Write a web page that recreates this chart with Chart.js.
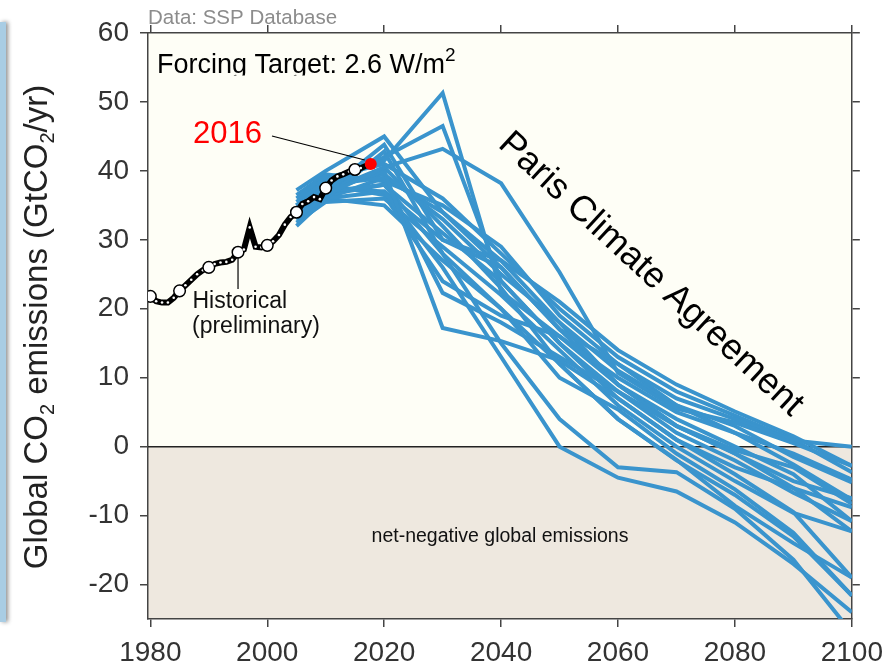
<!DOCTYPE html>
<html>
<head>
<meta charset="utf-8">
<style>
  html, body { margin: 0; padding: 0; background: #fff; }
  #wrap { position: relative; width: 892px; height: 669px; }
  #edge { position: absolute; left: 0; top: 22px; width: 6px; height: 600px; background: #a9cde4; box-shadow: 2px 0 4px rgba(0,0,0,0.45); }
</style>
<script src="https://cdn.jsdelivr.net/npm/chart.js@4.4.1/dist/chart.umd.min.js"></script>
</head>
<body>
<div id="wrap">
  <canvas id="chart"></canvas>
  <div id="edge"></div>
</div>
<script>
// --- data ---
const xTicks = [1980, 2000, 2020, 2040, 2060, 2080, 2100];
const yTicks = [-20, -10, 0, 10, 20, 30, 40, 50, 60];

const histYears = [1980, 1981, 1982, 1983, 1984, 1985, 1986, 1987, 1988, 1989,
                   1990, 1991, 1992, 1993, 1994, 1995, 1996, 1997, 1998, 1999,
                   2000, 2001, 2002, 2003, 2004, 2005, 2006, 2007, 2008, 2009,
                   2010, 2011, 2012, 2013, 2014, 2015, 2016, 2017];
const histValues = [21.8, 21.1, 20.9, 20.9, 21.6, 22.6, 23.4, 24.2, 25.0, 25.6,
                    26.0, 26.5, 26.7, 26.8, 27.1, 28.2, 28.6, 31.8, 29.0, 28.9,
                    29.2, 29.8, 30.7, 32.2, 33.3, 34.0, 35.2, 35.6, 36.2, 35.9,
                    37.5, 38.6, 39.2, 39.5, 39.9, 40.2, 40.4, 40.8];
const histMarkerYears = [1980, 1985, 1990, 1995, 2000, 2005, 2010, 2015];

const redDotYear = 2017.7;
const redDotValue = 41.0;

const scenarioYears = [2005, 2010, 2020, 2030, 2040, 2050, 2060, 2070, 2080, 2090, 2100];
const scenarios = [
  [35.5, 38.5, 41.5, 51.3, 22.5, 16.0, 10.0, 5.0, 2.0, -1.0, -4.8],
  [34.0, 37.5, 42.0, 46.5, 24.0, 15.0, 8.0, 3.0, -0.5, -3.0, -8.3],
  [33.0, 36.5, 40.5, 43.2, 38.2, 25.3, 10.7, 5.5, 3.5, 0.5, -2.8],
  [37.2, 40.0, 45.0, 34.0, 26.0, 17.0, 12.0, 7.0, 4.0, 0.9, 0.0],
  [33.5, 37.0, 43.8, 30.0, 27.0, 18.0, 9.0, 3.0, -1.0, -6.0, -12.3],
  [32.0, 36.0, 42.8, 28.0, 20.0, 12.0, 4.0, -2.0, -7.0, -13.0, -21.6],
  [34.0, 37.0, 40.0, 17.2, 15.3, 12.5, 7.0, 1.0, -4.0, -9.5, -19.0],
  [35.0, 38.0, 39.0, 22.3, 18.0, 13.0, 8.0, 2.0, -2.0, -6.7, -10.8],
  [33.0, 36.0, 37.0, 26.0, 13.0, 0.0, -4.5, -6.5, -11.0, -17.0, -24.0],
  [34.0, 37.0, 38.0, 28.0, 15.0, 4.0, -3.0, -3.7, -9.0, -16.4, -27.0],
  [36.0, 39.0, 41.0, 36.0, 28.0, 20.0, 13.0, 8.0, 4.5, 1.0, -3.7],
  [35.0, 38.0, 39.5, 33.0, 25.0, 18.0, 11.0, 6.0, 3.0, -1.5, -5.2],
  [33.5, 36.5, 38.0, 31.0, 24.0, 15.0, 7.0, 1.0, -3.0, -6.0, -8.8],
  [34.5, 37.5, 37.0, 30.0, 26.0, 17.0, 9.0, 3.0, -1.0, -5.0, -7.5],
  [32.5, 35.5, 36.0, 29.0, 22.0, 14.0, 6.0, 0.0, -5.0, -9.6, -12.3],
  [36.5, 39.5, 38.5, 35.0, 29.0, 19.0, 12.0, 6.0, 2.0, -2.6, -7.7],
  [33.0, 36.0, 35.0, 27.0, 20.0, 10.0, 5.4, -1.0, -6.2, -12.5, -21.6],
  [34.0, 37.0, 40.5, 32.0, 23.0, 12.0, 4.0, -1.9, -8.6, -14.0, -19.0],
  [35.0, 38.0, 36.5, 24.0, 19.0, 16.0, 9.0, 4.0, 0.0, -4.0, -10.8],
  [33.0, 36.0, 39.0, 34.0, 27.0, 21.0, 14.0, 9.0, 5.1, 1.5, -2.8]
];

// --- styling ---
const FONT = '"Liberation Sans", Arial, Helvetica, sans-serif';
const AXIS = '#444';
const BLUE = '#3a94cd';

function font(size) { return size + 'px ' + FONT; }

// draw text made of pieces, some sub/superscript
function richText(ctx, parts, x, y, size, align) {
  const pieces = parts.map(p => {
    const s = p.sub || p.sup ? Math.round(size * (p.sub ? 0.62 : 0.72)) : size;
    ctx.font = font(s);
    return { t: p.t, s: s, dy: p.sub ? size * 0.22 : (p.sup ? -size * 0.44 : 0), w: ctx.measureText(p.t).width };
  });
  const total = pieces.reduce((a, p) => a + p.w, 0);
  let cx = align === 'center' ? x - total / 2 : x;
  pieces.forEach(p => {
    ctx.font = font(p.s);
    ctx.fillText(p.t, cx, y + p.dy);
    cx += p.w;
  });
}

const decor = {
  id: 'decor',
  beforeDraw(chart) {
    const { ctx, chartArea: a, scales } = chart;
    const y0 = scales.y.getPixelForValue(0);
    ctx.save();
    ctx.fillStyle = '#fefef6';
    ctx.fillRect(a.left, a.top, a.width, y0 - a.top);
    ctx.fillStyle = '#eee8df';
    ctx.fillRect(a.left, y0, a.width, a.bottom - y0);
    ctx.restore();
  },
  beforeDatasetsDraw(chart) {
    const { ctx, chartArea: a, scales } = chart;
    const y0 = scales.y.getPixelForValue(0);
    ctx.save();
    ctx.strokeStyle = '#222';
    ctx.lineWidth = 1.5;
    ctx.beginPath();
    ctx.moveTo(a.left, y0);
    ctx.lineTo(a.right, y0);
    ctx.stroke();
    ctx.restore();
  },
  afterDraw(chart) {
    const { ctx, scales } = chart;
    const xs = scales.x, ys = scales.y;
    ctx.save();
    ctx.textBaseline = 'alphabetic';

    // source note
    ctx.fillStyle = '#8c8c8c';
    ctx.font = font(20.5);
    ctx.textAlign = 'left';
    ctx.fillText('Data: SSP Database', 148, 24);

    // y axis title
    ctx.save();
    ctx.translate(47, 327);
    ctx.rotate(-Math.PI / 2);
    ctx.fillStyle = '#222';
    richText(ctx, [{ t: 'Global CO' }, { t: '2', sub: true }, { t: ' emissions (GtCO' }, { t: '2', sub: true }, { t: '/yr)' }], 0, 0, 33, 'center');
    ctx.restore();

    // forcing target (bottom of the line is cut in the original)
    ctx.save();
    ctx.beginPath();
    ctx.rect(148, 34, 600, 41.5);
    ctx.clip();
    ctx.fillStyle = '#000';
    richText(ctx, [{ t: 'Forcing Target: 2.6 W/m' }, { t: '2', sup: true }], 157, 72.5, 27, 'left');
    ctx.restore();

    // 2016 label and leader
    const dx = xs.getPixelForValue(redDotYear), dy = ys.getPixelForValue(redDotValue);
    ctx.fillStyle = '#ff0000';
    ctx.font = font(31);
    ctx.fillText('2016', 193, 143);
    ctx.strokeStyle = '#000';
    ctx.lineWidth = 1.2;
    ctx.beginPath();
    ctx.moveTo(272, 136);
    ctx.lineTo(dx - 6, dy - 4);
    ctx.stroke();

    // historical label and leader
    const hx = xs.getPixelForValue(1995), hy = ys.getPixelForValue(histValues[histYears.indexOf(1995)]);
    ctx.beginPath();
    ctx.moveTo(hx, hy + 5);
    ctx.lineTo(hx, 289);
    ctx.stroke();
    ctx.fillStyle = '#111';
    ctx.font = font(23);
    ctx.fillText('Historical', 192.5, 308);
    ctx.fillText('(preliminary)', 192, 333);

    // net-negative label
    ctx.font = font(19.5);
    ctx.textAlign = 'center';
    ctx.fillStyle = '#111';
    ctx.fillText('net-negative global emissions', 500, 541.5);

    // Paris label
    ctx.save();
    ctx.translate(497, 146);
    ctx.rotate(42.7 * Math.PI / 180);
    ctx.textAlign = 'left';
    ctx.fillStyle = '#000';
    ctx.font = font(36);
    ctx.fillText('Paris Climate Agreement', 0, 0);
    ctx.restore();

    ctx.restore();
  }
};

const datasets = [];
datasets.push({
  data: [{ x: redDotYear, y: redDotValue }],
  showLine: false,
  pointRadius: 6,
  pointBackgroundColor: '#ff0000',
  pointBorderWidth: 0
});
datasets.push({
  data: histYears.map((yr, i) => ({ x: yr, y: histValues[i] })),
  borderColor: '#000',
  borderWidth: 6,
  pointRadius: histYears.map(yr => histMarkerYears.includes(yr) ? 5.8 : 1.3),
  pointBackgroundColor: '#fff',
  pointBorderColor: histYears.map(yr => histMarkerYears.includes(yr) ? '#000' : '#fff'),
  pointBorderWidth: histYears.map(yr => histMarkerYears.includes(yr) ? 1.5 : 0)
});
scenarios.forEach(vals => {
  datasets.push({
    data: scenarioYears.map((yr, i) => ({ x: yr, y: vals[i] })),
    borderColor: BLUE,
    borderWidth: 4,
    pointRadius: 0,
    clip: 0
  });
});

function axis(pos, min, max, ticks, showLabels, size) {
  const horiz = pos === 'top' || pos === 'bottom';
  return {
    type: 'linear',
    position: pos,
    min: min,
    max: max,
    afterBuildTicks: s => { s.ticks = ticks.map(v => ({ value: v })); },
    afterFit: s => { if (horiz) s.height = size; else s.width = size; },
    grid: { drawOnChartArea: false, drawTicks: true, tickLength: 8, color: AXIS, lineWidth: 1.5 },
    border: { display: true, color: AXIS, width: 1.5 },
    ticks: {
      display: showLabels,
      color: '#333',
      font: { family: FONT, size: 28 },
      padding: horiz ? 9 : 11,
      maxRotation: 0,
      autoSkip: false,
      callback: v => String(v)
    }
  };
}

new Chart(document.getElementById('chart'), {
  type: 'line',
  data: { datasets: datasets },
  options: {
    responsive: true,
    maintainAspectRatio: false,
    animation: false,
    events: [],
    layout: { padding: 0 },
    elements: { line: { tension: 0, borderCapStyle: 'butt', borderJoinStyle: 'miter' } },
    plugins: { legend: { display: false }, tooltip: { enabled: false } },
    scales: {
      x: axis('bottom', 1979.6, 2100, xTicks, true, 50),
      x2: axis('top', 1979.6, 2100, xTicks, false, 33),
      y: axis('left', -25, 60, yTicks, true, 148),
      y2: axis('right', -25, 60, yTicks, false, 39)
    }
  },
  plugins: [decor]
});
</script>
</body>
</html>
